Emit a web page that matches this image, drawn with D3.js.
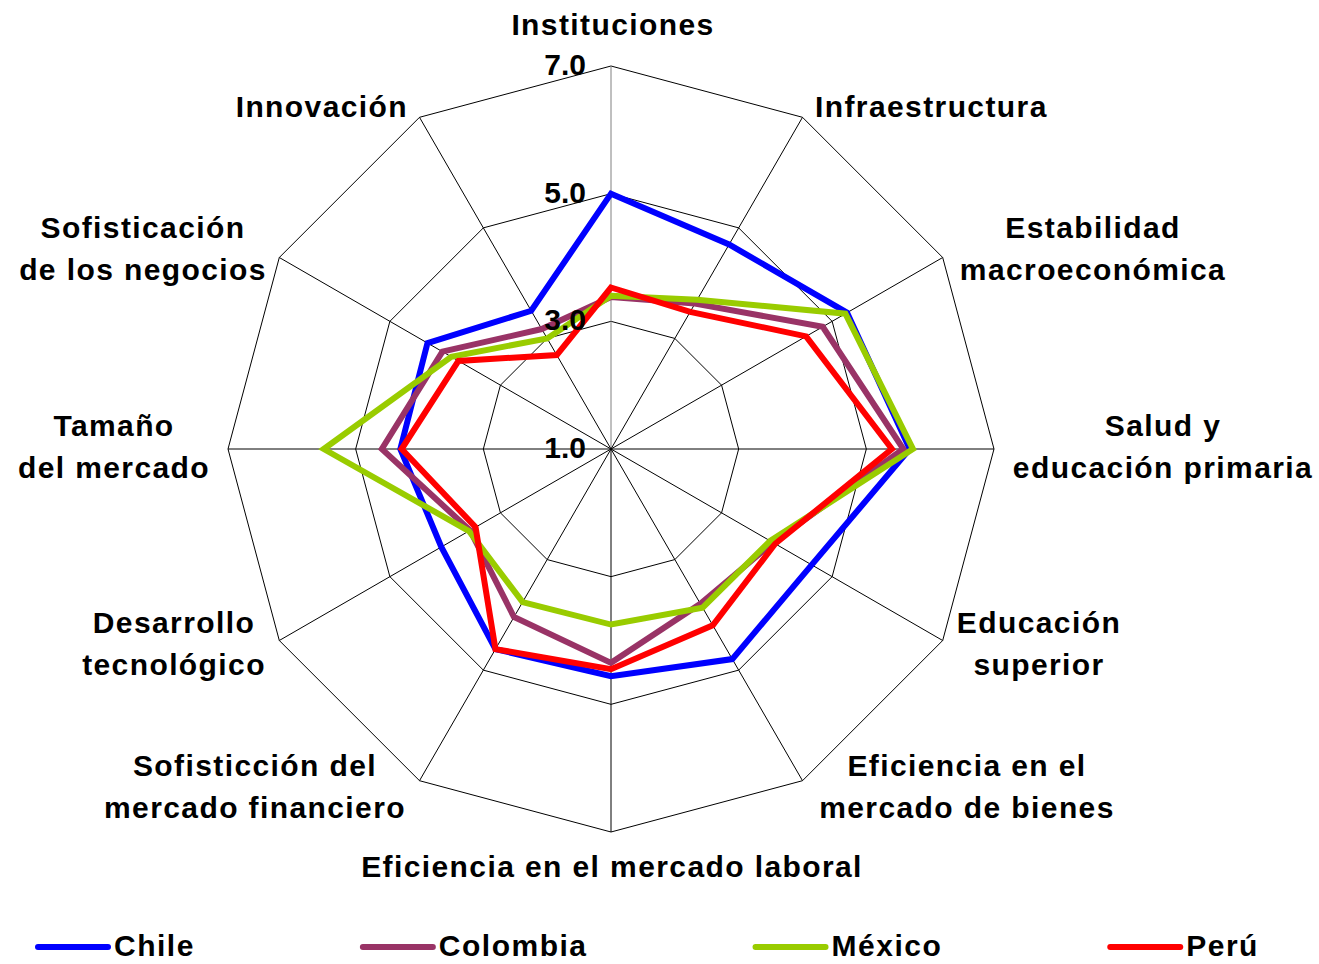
<!DOCTYPE html>
<html>
<head>
<meta charset="utf-8">
<script src="https://cdn.jsdelivr.net/npm/d3@7"></script>
<style>
  body { margin: 0; background: #fff; }
  svg text { font-family: "Liberation Sans", Arial, sans-serif; font-weight: bold; fill: #000; }
</style>
</head>
<body>
<div id="chart"></div>
<script>
// Radar chart: competitiveness pillars (scale 1-7)

const categories = [
  ["Instituciones"],
  ["Infraestructura"],
  ["Estabilidad", "macroeconómica"],
  ["Salud y", "educación primaria"],
  ["Educación", "superior"],
  ["Eficiencia en el", "mercado de bienes"],
  ["Eficiencia en el mercado laboral"],
  ["Sofisticción del", "mercado financiero"],
  ["Desarrollo", "tecnológico"],
  ["Tamaño", "del mercado"],
  ["Sofisticación", "de los negocios"],
  ["Innovación"]
];

const chile    = [5.00, 4.70, 5.27, 5.68, 4.63, 4.80, 4.56, 4.62, 4.07, 4.30, 4.32, 3.50];
const colombia = [3.38, 3.63, 4.83, 5.58, 3.93, 3.80, 4.35, 4.04, 3.55, 4.59, 4.05, 3.17];
const mexico   = [3.40, 3.70, 5.24, 5.73, 3.88, 3.87, 3.75, 3.77, 3.57, 5.50, 3.89, 3.00];
const peru     = [3.53, 3.48, 4.53, 5.40, 3.97, 4.19, 4.45, 4.62, 3.45, 4.28, 3.76, 2.70];

const seriesNames = ["Chile", "Colombia", "México", "Perú"];
const seriesColors = ["#0000FF", "#993366", "#99CC00", "#FF0000"];
const ringValues = [3, 5, 7];
const tickValues = [1, 3, 5, 7];

const width = 1319, height = 964;
const cx = 611, cy = 449, radius = 383;

const svg = d3.select("#chart")
  .append("svg")
    .attr("width", width)
    .attr("height", height);

const r = d3.scaleLinear().domain([1, 7]).range([0, radius]);
const n = categories.length;
const angle = i => i * 2 * Math.PI / n;

const g = svg.append("g").attr("transform", `translate(${cx},${cy})`);

// grid rings
const ringLine = d3.lineRadial()
  .angle((d, i) => angle(i))
  .radius(d => r(d))
  .curve(d3.curveLinearClosed);

g.selectAll(".ring")
  .data(ringValues)
  .enter()
  .append("path")
    .attr("d", v => ringLine(d3.range(n).map(() => v)))
    .attr("fill", "none")
    .attr("stroke", "#000")
    .attr("stroke-width", 1);

// spokes
g.selectAll(".spoke")
  .data(d3.range(n))
  .enter()
  .append("line")
    .attr("x1", 0).attr("y1", 0)
    .attr("x2", i => r(7) * Math.sin(angle(i)))
    .attr("y2", i => -r(7) * Math.cos(angle(i)))
    .attr("stroke", i => i === 0 ? "#808080" : "#000")
    .attr("stroke-width", 1);

// series
const seriesData = [chile, colombia, mexico, peru];
const valueLine = d3.lineRadial()
  .angle((d, i) => angle(i))
  .radius(d => r(d))
  .curve(d3.curveLinearClosed);

g.selectAll(".series")
  .data(seriesData)
  .enter()
  .append("path")
    .attr("d", valueLine)
    .attr("fill", "none")
    .attr("stroke", (d, i) => seriesColors[i])
    .attr("stroke-width", 6)
    .attr("stroke-linejoin", "miter");

// tick labels
g.selectAll(".tick")
  .data(tickValues)
  .enter()
  .append("text")
    .attr("x", -25)
    .attr("y", v => -r(v) + 1)
    .attr("text-anchor", "end")
    .attr("dominant-baseline", "middle")
    .style("font-size", "30px")
    .text(v => d3.format(".1f")(v));

// category labels
const labelPos = [
  { x: 613, y: 27, anchor: "middle" },
  { x: 815, y: 109, anchor: "start" },
  { x: 1093, y: 230, anchor: "middle" },
  { x: 1163, y: 428, anchor: "middle" },
  { x: 1039, y: 625, anchor: "middle" },
  { x: 967, y: 768, anchor: "middle" },
  { x: 612, y: 869, anchor: "middle" },
  { x: 255, y: 768, anchor: "middle" },
  { x: 174, y: 625, anchor: "middle" },
  { x: 114, y: 428, anchor: "middle" },
  { x: 143, y: 230, anchor: "middle" },
  { x: 408, y: 109, anchor: "end" }
];

categories.forEach((lines, i) => {
  const p = labelPos[i];
  const t = svg.append("text")
    .attr("text-anchor", p.anchor)
    .style("font-size", "30px")
    .style("letter-spacing", "1.4px");
  lines.forEach((ln, j) => {
    t.append("tspan")
      .attr("x", p.x)
      .attr("y", p.y + j * 42)
      .attr("dominant-baseline", "middle")
      .text(ln);
  });
});

// legend
const legend = svg.append("g").attr("transform", "translate(38,947)");
let lx = 0;
seriesNames.forEach((name, i) => {
  const item = legend.append("g").attr("transform", `translate(${lx},0)`);
  item.append("line")
    .attr("x1", 0).attr("x2", 70)
    .attr("y1", 0).attr("y2", 0)
    .attr("stroke", seriesColors[i])
    .attr("stroke-width", 6)
    .attr("stroke-linecap", "round");
  const txt = item.append("text")
    .attr("x", 76)
    .attr("y", 1)
    .attr("dominant-baseline", "middle")
    .style("font-size", "30px")
    .style("letter-spacing", "1.5px")
    .text(name);
  lx += 76 + txt.node().getComputedTextLength() + 168;
});
</script>
</body>
</html>
